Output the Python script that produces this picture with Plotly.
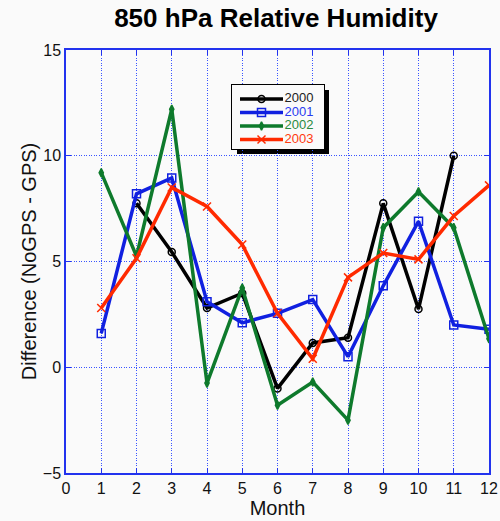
import plotly.graph_objects as go

months = list(range(1, 13))
y2000 = [None, 7.75, 5.45, 2.8, 3.5, -1.0, 1.15, 1.4, 7.75, 2.75, 10.0, None]
y2001 = [1.6, 8.2, 8.95, 3.1, 2.1, 2.55, 3.2, 0.5, 3.85, 6.9, 2.0, 1.8]
y2002 = [9.2, 5.25, 12.2, -0.75, 3.75, -1.8, -0.7, -2.5, 6.6, 8.3, 6.6, 1.35]
y2003 = [2.8, 5.15, 8.5, 7.6, 5.8, 2.55, 0.4, 4.25, 5.4, 5.1, 7.15, 8.6]
names = ["2000", "2001", "2002", "2003"]

styles = [
    dict(color="#000000", symbol="circle-open", size=7, text="#222222"),
    dict(color="#1020e0", symbol="square-open", size=8, text="#2a3cf0"),
    dict(color="#0e7a2c", symbol="diamond-tall", size=6, text="#2a8a40"),
    dict(color="#ff2a00", symbol="x-thin", size=8, text="#ff3a10"),
]

BG = "#fafafa"
axis_blue = "#2233ee"
grid_blue = "#3a55ff"

fig = go.Figure()
for name, ys, st in zip(names, [y2000, y2001, y2002, y2003], styles):
    fig.add_trace(go.Scatter(
        x=months, y=ys, mode="lines+markers", name=name, showlegend=False,
        line=dict(color=st["color"], width=3.5),
        marker=dict(symbol=st["symbol"], size=st["size"], color=st["color"],
                    line=dict(color=st["color"], width=1.5)),
        connectgaps=False,
    ))

# --- hand-made legend (samples on a small hidden axis over the legend box) ---
row_y = [14, 27.5, 41, 54.5]
for name, st, ry in zip(names, styles, row_y):
    fig.add_trace(go.Scatter(
        x=[8, 51], y=[ry, ry], mode="lines", xaxis="x2", yaxis="y2", showlegend=False,
        line=dict(color=st["color"], width=3.5), hoverinfo="skip"))
    fig.add_trace(go.Scatter(
        x=[29.5], y=[ry], mode="markers", xaxis="x2", yaxis="y2", showlegend=False,
        marker=dict(symbol=st["symbol"], size=st["size"], color=st["color"],
                    line=dict(color=st["color"], width=1.5)), hoverinfo="skip"))
    fig.add_trace(go.Scatter(
        x=[52.5], y=[ry], mode="text", text=[name], textposition="middle right",
        xaxis="x2", yaxis="y2", showlegend=False, hoverinfo="skip",
        textfont=dict(size=13, color=st["text"])))

def px_x(p):
    return (p - 66) / 423.0

def px_y(p):
    return (473 - p) / 423.0

# shadow + box
fig.add_shape(type="rect", xref="paper", yref="paper", layer="between",
              x0=px_x(237), x1=px_x(329), y0=px_y(154), y1=px_y(90),
              fillcolor="#000000", line=dict(width=0))
fig.add_shape(type="rect", xref="paper", yref="paper", layer="between",
              x0=px_x(232), x1=px_x(324), y0=px_y(149), y1=px_y(85),
              fillcolor=BG, line=dict(color="#000000", width=2))

fig.update_layout(
    width=500, height=521,
    margin=dict(l=66, r=11, t=50, b=48),
    paper_bgcolor=BG, plot_bgcolor=BG,
    font=dict(family="Liberation Sans, Arial, sans-serif", size=16, color="#111111"),
    title=dict(text="<b>850 hPa Relative Humidity</b>", x=276 / 500, xanchor="center",
               xref="container", y=1 - 17.5 / 521, yanchor="middle", yref="container",
               font=dict(size=26, color="#000000")),
    showlegend=False,
    xaxis=dict(range=[0, 12], dtick=1, tick0=0, showgrid=True, gridcolor=grid_blue,
               griddash="1px,1.5px", gridwidth=1, showline=True, linecolor=axis_blue, linewidth=1.5,
               mirror="ticks", ticks="inside", ticklen=5, tickcolor=axis_blue,
               zeroline=False, automargin=False,
               title=dict(text="Month", font=dict(size=20), standoff=3),
               tickfont=dict(size=16)),
    yaxis=dict(range=[-5, 15], dtick=5, tick0=0, showgrid=True, gridcolor=grid_blue,
               griddash="1px,1.5px", gridwidth=1, showline=True, linecolor=axis_blue, linewidth=1.5,
               mirror="ticks", ticks="inside", ticklen=5, tickcolor=axis_blue,
               zeroline=False, automargin=False,
               title=dict(text="Difference (NoGPS - GPS)", font=dict(size=20), standoff=1),
               tickfont=dict(size=16)),
    xaxis2=dict(domain=[px_x(232), px_x(324)], range=[0, 92], visible=False, anchor="y2",
                fixedrange=True),
    yaxis2=dict(domain=[px_y(149), px_y(85)], range=[64, 0], visible=False, anchor="x2",
                fixedrange=True),
)

fig.write_html("out.html")
